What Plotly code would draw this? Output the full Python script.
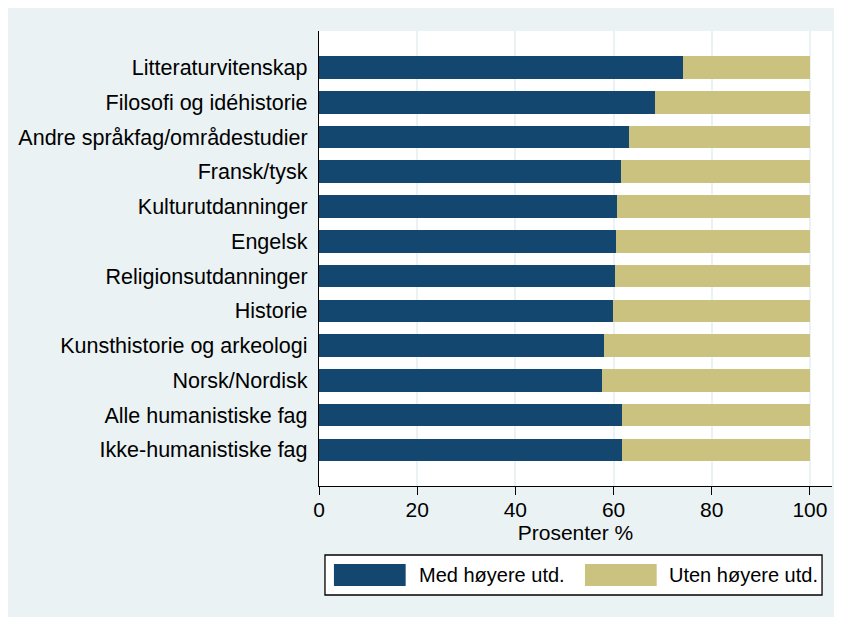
import plotly.graph_objects as go

categories = [
    "Litteraturvitenskap",
    "Filosofi og idéhistorie",
    "Andre språkfag/områdestudier",
    "Fransk/tysk",
    "Kulturutdanninger",
    "Engelsk",
    "Religionsutdanninger",
    "Historie",
    "Kunsthistorie og arkeologi",
    "Norsk/Nordisk",
    "Alle humanistiske fag",
    "Ikke-humanistiske fag",
]
med_hoyere = [74.2, 68.4, 63.1, 61.6, 60.7, 60.4, 60.3, 59.8, 58.0, 57.6, 61.8, 61.8]
uten_hoyere = [round(100 - v, 1) for v in med_hoyere]
series_names = ["Med høyere utd.", "Uten høyere utd."]
x_ticks = [0, 20, 40, 60, 80, 100]

NAVY = "#14476F"
TAN = "#CAC27E"
BG = "#EAF2F3"
FONT = "Liberation Sans, Arial, sans-serif"

fig = go.Figure()
fig.add_trace(go.Bar(y=categories, x=med_hoyere, orientation="h", name=series_names[0],
                     marker=dict(color=NAVY, line=dict(width=0)), showlegend=False))
fig.add_trace(go.Bar(y=categories, x=uten_hoyere, orientation="h", name=series_names[1],
                     marker=dict(color=TAN, line=dict(width=0)), showlegend=False))

W, H = 834, 609
OFF = 8  # page offset of the figure inside the window
L, T = 309, 23
pw, ph = 515, 455
R, B = W - L - pw, H - T - ph

def px(x):
    return (x - OFF - L) / pw

def py(y):
    return (H - B - (y - OFF)) / ph

shapes = [
    dict(type="rect", xref="paper", yref="paper", x0=px(323), x1=px(822), y0=py(595), y1=py(555),
         fillcolor="white", line=dict(color="black", width=1.3), layer="above"),
    dict(type="rect", xref="paper", yref="paper", x0=px(332), x1=px(404), y0=py(586), y1=py(564),
         fillcolor=NAVY, line=dict(width=0), layer="above"),
    dict(type="rect", xref="paper", yref="paper", x0=px(584), x1=px(656), y0=py(586), y1=py(564),
         fillcolor=TAN, line=dict(width=0), layer="above"),
]

annotations = [
    dict(xref="paper", yref="paper", x=px(415), y=py(575), text=series_names[0], showarrow=False,
         xanchor="left", yanchor="middle", font=dict(family=FONT, size=20, color="black")),
    dict(xref="paper", yref="paper", x=px(666), y=py(575), text=series_names[1], showarrow=False,
         xanchor="left", yanchor="middle", font=dict(family=FONT, size=20, color="black")),
]

fig.update_layout(
    width=W, height=H,
    margin=dict(l=L, r=R, t=T, b=B, pad=0),
    barmode="stack", bargap=0.35,
    paper_bgcolor=BG, plot_bgcolor="white",
    font=dict(family=FONT, size=20, color="black"),
    shapes=shapes, annotations=annotations,
    showlegend=False,
)
fig.update_xaxes(
    range=[0, 104.5], tickvals=x_ticks, ticktext=[str(t) for t in x_ticks],
    showgrid=True, gridcolor=BG, gridwidth=1.5, zeroline=False,
    showline=True, linecolor="black", linewidth=1.3,
    ticks="outside", ticklen=8, tickwidth=1.3, tickcolor="black",
    ticklabelstandoff=-3,
    tickfont=dict(family=FONT, size=21, color="black"),
    title=dict(text="Prosenter %", font=dict(family=FONT, size=21, color="black"), standoff=1),
)
fig.update_yaxes(
    categoryorder="array", categoryarray=categories,
    range=[len(categories) - 1 + 1.04, -1.05],
    showgrid=False, zeroline=False,
    showline=True, linecolor="black", linewidth=1.3,
    ticks="", ticklabelstandoff=6,
    tickfont=dict(family=FONT, size=21.5, color="black"),
)

fig.write_html("out.html", post_script="document.documentElement.style.overflow='hidden';document.body.style.overflow='hidden';")
